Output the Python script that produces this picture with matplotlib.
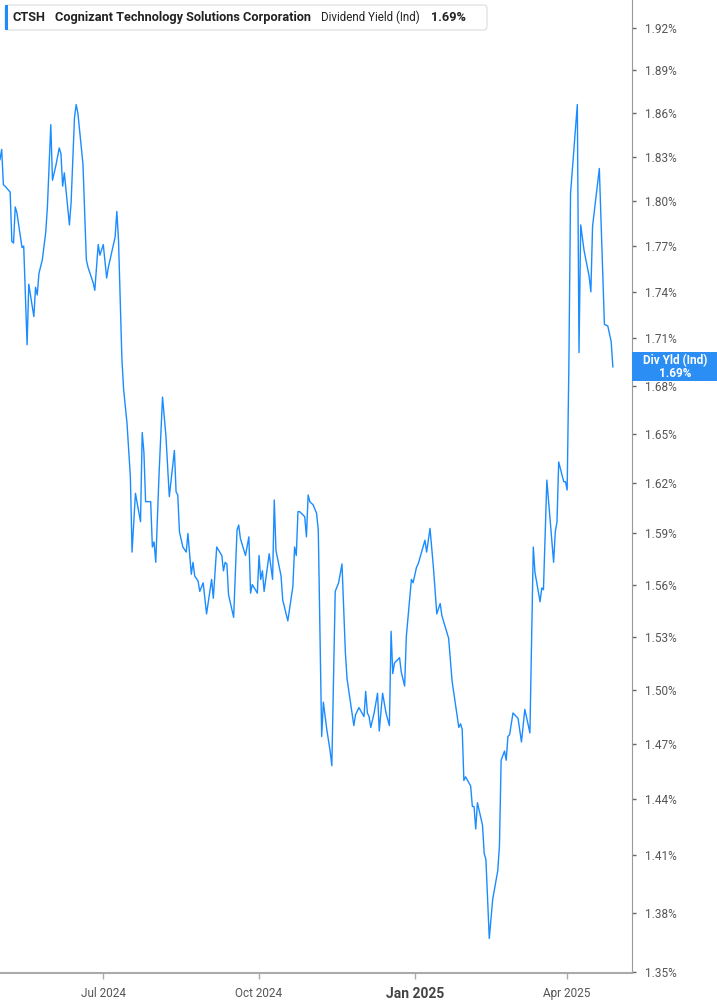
import matplotlib
matplotlib.use("Agg")
from matplotlib import pyplot as plt
from matplotlib.patches import FancyBboxPatch, Rectangle
from matplotlib.ticker import FixedLocator, NullLocator, FuncFormatter
import matplotlib.dates as mdates
import pandas as pd

plt.rcParams['font.family'] = ['Roboto', 'DejaVu Sans']

# dividend yield (%), vertex by vertex
dates = [
    "2024-05-01", "2024-05-02", "2024-05-03", "2024-05-04", "2024-05-07", "2024-05-08",
    "2024-05-09", "2024-05-10", "2024-05-11", "2024-05-14", "2024-05-15", "2024-05-17",
    "2024-05-18", "2024-05-21", "2024-05-22", "2024-05-23", "2024-05-24", "2024-05-26",
    "2024-05-28", "2024-05-29", "2024-05-31", "2024-06-01", "2024-06-03", "2024-06-05",
    "2024-06-06", "2024-06-07", "2024-06-08", "2024-06-11", "2024-06-12", "2024-06-14",
    "2024-06-15", "2024-06-16", "2024-06-19", "2024-06-21", "2024-06-22", "2024-06-25",
    "2024-06-26", "2024-06-28", "2024-06-29", "2024-07-01", "2024-07-03", "2024-07-04",
    "2024-07-08", "2024-07-09", "2024-07-10", "2024-07-12", "2024-07-13", "2024-07-15",
    "2024-07-17", "2024-07-18", "2024-07-20", "2024-07-23", "2024-07-24", "2024-07-25",
    "2024-07-26", "2024-07-29", "2024-07-30", "2024-07-31", "2024-08-01", "2024-08-03",
    "2024-08-05", "2024-08-07", "2024-08-09", "2024-08-12", "2024-08-13", "2024-08-14",
    "2024-08-15", "2024-08-17", "2024-08-19", "2024-08-20", "2024-08-22", "2024-08-23",
    "2024-08-24", "2024-08-26", "2024-08-27", "2024-08-29", "2024-08-31", "2024-09-03",
    "2024-09-04", "2024-09-06", "2024-09-09", "2024-09-10", "2024-09-11", "2024-09-12",
    "2024-09-13", "2024-09-16", "2024-09-18", "2024-09-19", "2024-09-20", "2024-09-23",
    "2024-09-25", "2024-09-26", "2024-09-27", "2024-09-30", "2024-10-01", "2024-10-02",
    "2024-10-03", "2024-10-04", "2024-10-07", "2024-10-09", "2024-10-10", "2024-10-11",
    "2024-10-14", "2024-10-15", "2024-10-18", "2024-10-21", "2024-10-22", "2024-10-23",
    "2024-10-24", "2024-10-25", "2024-10-28", "2024-10-29", "2024-10-30", "2024-10-31",
    "2024-11-02", "2024-11-04", "2024-11-05", "2024-11-07", "2024-11-08", "2024-11-10",
    "2024-11-12", "2024-11-13", "2024-11-15", "2024-11-17", "2024-11-19", "2024-11-21",
    "2024-11-22", "2024-11-26", "2024-11-27", "2024-11-29", "2024-12-02", "2024-12-03",
    "2024-12-04", "2024-12-05", "2024-12-06", "2024-12-08", "2024-12-10", "2024-12-11",
    "2024-12-13", "2024-12-15", "2024-12-17", "2024-12-18", "2024-12-19", "2024-12-20",
    "2024-12-23", "2024-12-24", "2024-12-26", "2024-12-27", "2024-12-30", "2024-12-31",
    "2025-01-02", "2025-01-03", "2025-01-07", "2025-01-08", "2025-01-10", "2025-01-12",
    "2025-01-14", "2025-01-16", "2025-01-17", "2025-01-21", "2025-01-23", "2025-01-27",
    "2025-01-28", "2025-01-29", "2025-01-30", "2025-01-31", "2025-02-03", "2025-02-04",
    "2025-02-05", "2025-02-06", "2025-02-07", "2025-02-10", "2025-02-11", "2025-02-12",
    "2025-02-14", "2025-02-16", "2025-02-19", "2025-02-20", "2025-02-21", "2025-02-23",
    "2025-02-24", "2025-02-25", "2025-02-26", "2025-02-28", "2025-03-03", "2025-03-05",
    "2025-03-07", "2025-03-10", "2025-03-12", "2025-03-13", "2025-03-16", "2025-03-17",
    "2025-03-18", "2025-03-20", "2025-03-24", "2025-03-25", "2025-03-26", "2025-03-27",
    "2025-03-30", "2025-03-31", "2025-04-01", "2025-04-02", "2025-04-03", "2025-04-07",
    "2025-04-08", "2025-04-09", "2025-04-11", "2025-04-14", "2025-04-15", "2025-04-16",
    "2025-04-20", "2025-04-23", "2025-04-25", "2025-04-27", "2025-04-28",
]
yld = [
    1.828, 1.835, 1.811, 1.810, 1.806, 1.773,
    1.772, 1.796, 1.792, 1.769, 1.770, 1.706,
    1.745, 1.724, 1.743, 1.738, 1.752, 1.761,
    1.779, 1.796, 1.852, 1.814, 1.824, 1.836,
    1.832, 1.810, 1.819, 1.784, 1.799, 1.857,
    1.866, 1.860, 1.825, 1.761, 1.756, 1.746,
    1.741, 1.771, 1.764, 1.771, 1.749, 1.756,
    1.776, 1.793, 1.774, 1.697, 1.678, 1.657,
    1.624, 1.579, 1.614, 1.597, 1.651, 1.639,
    1.609, 1.609, 1.582, 1.585, 1.573, 1.627,
    1.673, 1.649, 1.612, 1.640, 1.615, 1.613,
    1.591, 1.582, 1.579, 1.590, 1.566, 1.573,
    1.565, 1.562, 1.556, 1.561, 1.543, 1.563,
    1.552, 1.582, 1.577, 1.568, 1.573, 1.572,
    1.554, 1.541, 1.592, 1.595, 1.587, 1.577,
    1.588, 1.555, 1.560, 1.555, 1.577, 1.563,
    1.568, 1.556, 1.578, 1.563, 1.610, 1.580,
    1.565, 1.551, 1.539, 1.559, 1.582, 1.577,
    1.603, 1.603, 1.600, 1.588, 1.613, 1.609,
    1.607, 1.602, 1.592, 1.474, 1.493, 1.478,
    1.466, 1.458, 1.556, 1.561, 1.572, 1.521,
    1.506, 1.480, 1.486, 1.490, 1.485, 1.499,
    1.487, 1.485, 1.479, 1.487, 1.498, 1.477,
    1.498, 1.487, 1.480, 1.533, 1.509, 1.515,
    1.518, 1.510, 1.502, 1.530, 1.563, 1.561,
    1.570, 1.572, 1.586, 1.579, 1.593, 1.570,
    1.543, 1.549, 1.542, 1.529, 1.505, 1.479,
    1.481, 1.478, 1.450, 1.452, 1.447, 1.436,
    1.436, 1.424, 1.438, 1.426, 1.411, 1.408,
    1.367, 1.387, 1.402, 1.415, 1.461, 1.466,
    1.461, 1.474, 1.475, 1.487, 1.484, 1.471,
    1.489, 1.476, 1.582, 1.567, 1.550, 1.558,
    1.557, 1.622, 1.573, 1.591, 1.597, 1.633,
    1.621, 1.621, 1.616, 1.692, 1.805, 1.866,
    1.701, 1.784, 1.767, 1.750, 1.740, 1.783,
    1.822, 1.719, 1.718, 1.708, 1.692,
]
ytick_vals = [1.35, 1.38, 1.41, 1.44, 1.47, 1.50, 1.53, 1.56, 1.59, 1.62, 1.65,
              1.68, 1.71, 1.74, 1.77, 1.80, 1.83, 1.86, 1.89, 1.92]
xtick_dates = ["2024-07-01", "2024-10-01", "2025-01-01", "2025-04-01"]
xtick_labels = ["Jul 2024", "Oct 2024", "Jan 2025", "Apr 2025"]

blue = "#1a8cff"
W, H = 717, 1005
fig = plt.figure(figsize=(W / 100, H / 100), dpi=100)
ax = fig.add_axes([0, 32 / H, 632 / W, 1 - 32 / H])

x = pd.to_datetime(dates)
ax.plot(x, yld, color=blue, lw=1.0)

ax.set_yscale("log")
ax.set_ylim(1.3495, 1.9402)
x0 = mdates.date2num(pd.Timestamp("2024-05-01"))
ax.set_xlim(x0, x0 + 373.3)

ax.yaxis.tick_right()
ax.yaxis.set_major_locator(FixedLocator(ytick_vals))
ax.yaxis.set_minor_locator(NullLocator())
ax.yaxis.set_major_formatter(FuncFormatter(lambda v, p: "%.2f%%" % v))
ax.tick_params(axis="y", which="major", length=3, width=1, color="#666666",
               labelsize=8.5, labelcolor="#555555", pad=6)

ax.xaxis.set_major_locator(FixedLocator(mdates.date2num(pd.to_datetime(xtick_dates))))
ax.xaxis.set_minor_locator(NullLocator())
ax.set_xticklabels(xtick_labels)
ax.tick_params(axis="x", length=4, width=1, color="#aaaaaa",
               labelsize=8.5, labelcolor="#555555", pad=6)
for lbl in ax.get_xticklabels():
    if lbl.get_text() == "Jan 2025":
        lbl.set_fontweight("bold")
        lbl.set_fontsize(10)
        lbl.set_color("#444444")

for s in ["top", "left"]:
    ax.spines[s].set_visible(False)
ax.spines["right"].set_color("#999999")
ax.spines["bottom"].set_color("#aaaaaa")
ax.spines["bottom"].set_linewidth(1.5)

# header box
fig.patches.append(FancyBboxPatch((5 / W, 1 - 30 / H), 482 / W, 25 / H,
                                  boxstyle="round,pad=0,rounding_size=0.004",
                                  transform=fig.transFigure, facecolor="white",
                                  edgecolor="#e3e3e3", lw=1, zorder=5))
fig.patches.append(Rectangle((5 / W, 1 - 30 / H), 3 / W, 25 / H,
                             transform=fig.transFigure, facecolor=blue,
                             edgecolor="none", zorder=6))
hy = 1 - 17.5 / H
fig.text(13 / W, hy, "CTSH", fontsize=9.2, fontweight="bold", color="#222222",
         va="center", zorder=7)
fig.text(55 / W, hy, "Cognizant Technology Solutions Corporation", fontsize=9.2,
         fontweight="bold", color="#222222", va="center", zorder=7)
fig.text(321 / W, hy, "Dividend Yield (Ind)", fontsize=8.3, color="#222222",
         va="center", zorder=7)
fig.text(431 / W, hy, "1.69%", fontsize=9.2, fontweight="bold", color="#222222",
         va="center", zorder=7)

# last value marker on the right axis
last_px = ax.transData.transform((mdates.date2num(x[-1]), yld[-1]))[1]
box_h = 29
fig.patches.append(Rectangle((632 / W, (last_px - box_h / 2) / H), 85 / W, box_h / H,
                             transform=fig.transFigure, facecolor="#2a8ef5",
                             edgecolor="none", zorder=6))
fig.text(675 / W, (last_px + 6) / H, "Div Yld (Ind)", fontsize=8.5, fontweight="bold",
         color="white", ha="center", va="center", zorder=7)
fig.text(675 / W, (last_px - 7) / H, "%.2f%%" % yld[-1], fontsize=8.5,
         fontweight="bold", color="white", ha="center", va="center", zorder=7)

fig.savefig("out.png", dpi=100)
